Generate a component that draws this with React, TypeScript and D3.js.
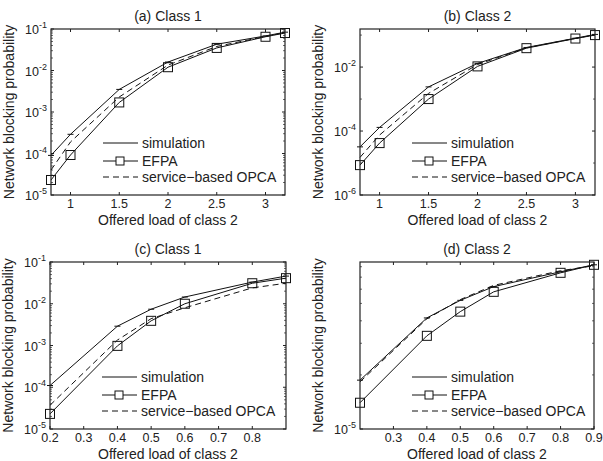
import React from 'react'
import * as d3 from 'd3'

// values (blocking probabilities)
const loadsTop = [0.8, 1, 1.5, 2, 2.5, 3, 3.2]
const loadsBottom = [0.2, 0.4, 0.5, 0.6, 0.8, 0.9]

const simA = [9e-5, 2.9e-4, 3.5e-3, 1.6e-2, 4.3e-2, 6.8e-2, 8.4e-2]
const efpaA = [2.3e-5, 9.2e-5, 1.7e-3, 1.2e-2, 3.5e-2, 6.5e-2, 8e-2]
const opcaA = [4e-5, 1.9e-4, 2.3e-3, 1.35e-2, 3.8e-2, 6.6e-2, 8.2e-2]

const simB = [3.2e-5, 1.3e-4, 2.4e-3, 1.3e-2, 4.1e-2, 8e-2, 0.105]
const efpaB = [8.6e-6, 4.2e-5, 1e-3, 1.05e-2, 3.9e-2, 7.8e-2, 0.1]
const opcaB = [1.5e-5, 7.5e-5, 1.5e-3, 1.2e-2, 4e-2, 7.9e-2, 0.102]

const simC = [1.1e-4, 2.9e-3, 7.4e-3, 1.45e-2, 3.3e-2, 4.6e-2]
const efpaC = [2.3e-5, 9.8e-4, 3.9e-3, 1e-2, 3.1e-2, 4.1e-2]
const opcaC = [3.7e-5, 1.35e-3, 4.4e-3, 8e-3, 2.4e-2, 3.1e-2]

const simD = [1.87e-5, 4.15e-5, 5.2e-5, 6.2e-5, 7.5e-5, 8.2e-5]
const efpaD = [1.4e-5, 3.3e-5, 4.5e-5, 5.8e-5, 7.4e-5, 8.2e-5]
const opcaD = [1.83e-5, 4.1e-5, 5.25e-5, 6.3e-5, 7.6e-5, 8.1e-5]

const xTicksTop = [1, 1.5, 2, 2.5, 3]
const xTicksC = [0.2, 0.3, 0.4, 0.5, 0.6, 0.7, 0.8]
const xTicksD = [0.3, 0.4, 0.5, 0.6, 0.7, 0.8, 0.9]
// decade exponents that carry a label
const yExpA = [-5, -4, -3, -2, -1]
const yExpB = [-6, -4, -2]
const yExpC = [-5, -4, -3, -2, -1]
const yExpD = [-5]

const titles = ['(a) Class 1', '(b) Class 2', '(c) Class 1', '(d) Class 2']
const legendLabels = ['simulation', 'EFPA', 'service\u2212based OPCA']
const xLabel = 'Offered load of class 2'
const yLabel = 'Network blocking probability'

const font = 'Liberation Sans, Arial, Helvetica, sans-serif'

const panels = [
  { title: titles[0], x: loadsTop, sim: simA, efpa: efpaA, opca: opcaA, xDom: [0.8, 3.2], yDom: [1e-5, 1e-1], xTicks: xTicksTop, yExp: yExpA, l: 51, t: 29, r: 285, b: 195 },
  { title: titles[1], x: loadsTop, sim: simB, efpa: efpaB, opca: opcaB, xDom: [0.8, 3.2], yDom: [1e-6, 0.155], xTicks: xTicksTop, yExp: yExpB, l: 360, t: 29, r: 595, b: 195 },
  { title: titles[2], x: loadsBottom, sim: simC, efpa: efpaC, opca: opcaC, xDom: [0.2, 0.9], yDom: [1e-5, 1e-1], xTicks: xTicksC, yExp: yExpC, l: 50, t: 262, r: 286, b: 429 },
  { title: titles[3], x: loadsBottom, sim: simD, efpa: efpaD, opca: opcaD, xDom: [0.2, 0.9], yDom: [1e-5, 8.5e-5], xTicks: xTicksD, yExp: yExpD, l: 360, t: 262, r: 594, b: 429 },
]

function Panel({ p }: { p: any }) {
  const x = d3.scaleLinear().domain(p.xDom).range([p.l, p.r])
  const y = d3.scaleLog().domain(p.yDom).range([p.b, p.t])
  const pts = (vals: number[]) => p.x.map((v: number, i: number) => [x(v), y(vals[i])] as [number, number])
  const line = d3.line()

  const step = p.yExp.length > 1 ? p.yExp[1] - p.yExp[0] : 1
  const lo = Math.floor(Math.log10(p.yDom[0]))
  const hi = Math.ceil(Math.log10(p.yDom[1]))
  const minors: number[] = []
  for (let k = lo; k <= hi; k++) {
    const v = Math.pow(10, k)
    if (step > 1) {
      // sparse decades: minor ticks on the unlabelled decades
      if (!p.yExp.includes(k) && v > p.yDom[0] && v < p.yDom[1]) minors.push(v)
      continue
    }
    for (let m = 2; m <= 9; m++) {
      const mv = m * v
      if (mv > p.yDom[0] && mv < p.yDom[1]) minors.push(mv)
    }
  }

  const cx = (p.l + p.r) / 2
  const cy = (p.t + p.b) / 2
  const lgX = p.l + 52
  const lgY = p.b - 52

  return (
    <g fontFamily={font} fill="#222">
      <text x={cx} y={p.t - 8} fontSize={14} textAnchor="middle">{p.title}</text>
      <text transform={`translate(${p.l - 37},${cy}) rotate(-90)`} fontSize={14} textAnchor="middle">{yLabel}</text>
      <text x={cx} y={p.b + 30} fontSize={14} textAnchor="middle">{xLabel}</text>

      {/* x ticks */}
      {p.xTicks.map((v: number) => (
        <g key={'x' + v}>
          <line x1={x(v)} x2={x(v)} y1={p.b} y2={p.b - 3} stroke="#222" />
          <line x1={x(v)} x2={x(v)} y1={p.t} y2={p.t + 3} stroke="#222" />
          <text x={x(v)} y={p.b + 13} fontSize={12.5} textAnchor="middle">{String(v)}</text>
        </g>
      ))}
      {/* y ticks */}
      {p.yExp.map((k: number) => (
        <g key={'y' + k}>
          <line x1={p.l} x2={p.l + 3} y1={y(Math.pow(10, k))} y2={y(Math.pow(10, k))} stroke="#222" />
          <line x1={p.r} x2={p.r - 3} y1={y(Math.pow(10, k))} y2={y(Math.pow(10, k))} stroke="#222" />
          <text x={p.l - 4} y={y(Math.pow(10, k)) + 5} fontSize={12.5} textAnchor="end">
            10<tspan dy={-6} fontSize={9}>{'-' + Math.abs(k)}</tspan>
          </text>
        </g>
      ))}
      {minors.map((v) => (
        <g key={'m' + v}>
          <line x1={p.l} x2={p.l + 2} y1={y(v)} y2={y(v)} stroke="#444" strokeWidth={0.8} />
          <line x1={p.r} x2={p.r - 2} y1={y(v)} y2={y(v)} stroke="#444" strokeWidth={0.8} />
        </g>
      ))}

      {/* curves */}
      <path d={line(pts(p.opca)) || ''} fill="none" stroke="#111" strokeWidth={1} strokeDasharray="6,4" />
      <path d={line(pts(p.sim)) || ''} fill="none" stroke="#111" strokeWidth={1} />
      {pts(p.sim).map((q: [number, number], i: number) => (
        <line key={'e' + i} x1={q[0] - 3} x2={q[0] + 3} y1={q[1]} y2={q[1]} stroke="#111" strokeWidth={1} />
      ))}
      <path d={line(pts(p.efpa)) || ''} fill="none" stroke="#111" strokeWidth={1} />
      {pts(p.efpa).map((q: [number, number], i: number) => (
        <rect key={'s' + i} x={q[0] - 4.5} y={q[1] - 4.5} width={9} height={9} fill="none" stroke="#111" strokeWidth={1} />
      ))}

      {/* legend */}
      <g>
        <line x1={lgX} x2={lgX + 35} y1={lgY} y2={lgY} stroke="#111" />
        <text x={lgX + 39} y={lgY + 5} fontSize={14}>{legendLabels[0]}</text>
        <line x1={lgX} x2={lgX + 35} y1={lgY + 18} y2={lgY + 18} stroke="#111" />
        <rect x={lgX + 13} y={lgY + 14} width={8} height={8} fill="white" stroke="#111" />
        <text x={lgX + 39} y={lgY + 23} fontSize={14}>{legendLabels[1]}</text>
        <line x1={lgX} x2={lgX + 35} y1={lgY + 34} y2={lgY + 34} stroke="#111" strokeDasharray="6,4" />
        <text x={lgX + 39} y={lgY + 39} fontSize={14}>{legendLabels[2]}</text>
      </g>

      <rect x={p.l} y={p.t} width={p.r - p.l} height={p.b - p.t} fill="none" stroke="#222" strokeWidth={1.2} />
    </g>
  )
}

export default function App() {
  return (
    <svg width={603} height={461} style={{ position: 'absolute', left: 0, top: 0, background: 'white' }}>
      <rect width={603} height={461} fill="white" />
      {panels.map((p, i) => <Panel key={i} p={p} />)}
    </svg>
  )
}
